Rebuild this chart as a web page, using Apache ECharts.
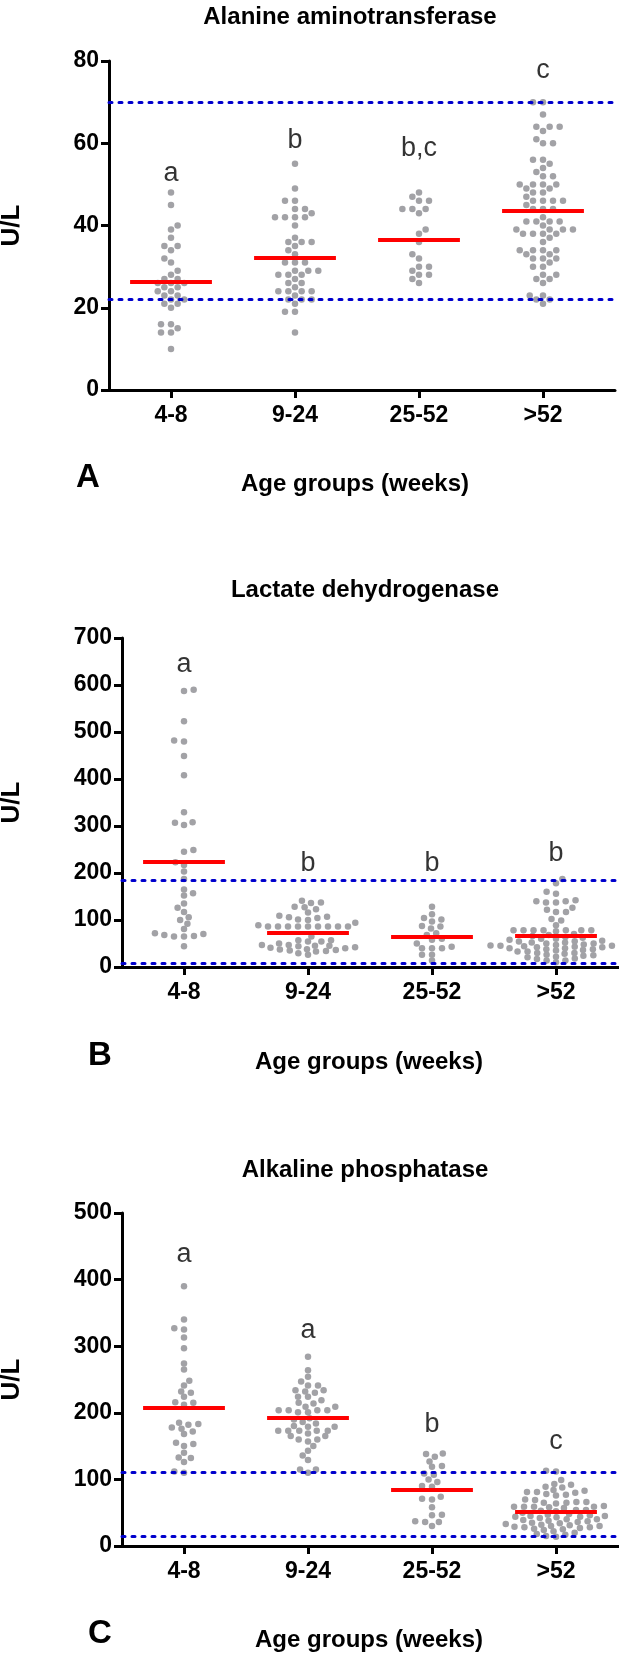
<!DOCTYPE html>
<html><head><meta charset="utf-8">
<script src="https://cdn.jsdelivr.net/npm/echarts@6/dist/echarts.min.js"></script>
<style>html,body{margin:0;padding:0;background:#fff}#c{width:619px;height:1653px}</style>
</head><body><div id="c"></div>
<script>
// ---------- DATA ----------
const categories = ['4-8', '9-24', '25-52', '>52'];

// Panel A: Alanine aminotransferase (U/L)
const alt4to8 = [48,45,40,39,37,35,35,34,32,31,29,28,27,27,26,26,26,25,25,24,24,23,23,22,22,21,21,20,16,16,15,14,14,10];
const alt9to24 = [55,49,46,46,44,44,43,42,42,42,42,40,37,36,36,36,35,34,33,31,31,31,29,29,29,28,28,28,27,26,26,25,24,24,24,24,23,22,22,22,21,19,19,14];
const alt25to52 = [48,47,46,46,44,44,44,43,39,38,36,33,32,30,30,29,28,28,27,26];
const altOver52 = [70,70,67,64,64,64,63,61,60,60,56,56,55,54,53,52,52,50,50,50,50,49,49,48,48,47,46,46,46,46,45,44,44,44,42,41,41,41,41,40,39,39,39,39,38,38,38,38,37,36,34,34,34,34,33,33,32,32,32,31,30,30,28,28,27,27,26,23,23,22,22,21];
const altMeans = [26.4, 32.1, 36.6, 43.7];
const altRefs = [22, 70];
const altLetters = ['a', 'b', 'b,c', 'c'];
const altLetterY = [52.6, 60.7, 58.7, 77.7];
const altYTicks = [0, 20, 40, 60, 80];

// Panel B: Lactate dehydrogenase (U/L)
const ldh4to8 = [590,587,523,482,480,449,408,329,308,307,302,249,245,223,217,203,187,165,157,152,135,126,117,106,100,92,81,72,70,68,66,65,65,44];
const ldh9to24 = [141,137,136,128,127,123,116,109,107,106,104,101,100,94,89,86,86,86,86,86,86,86,86,86,65,57,57,54,54,50,47,47,45,45,44,42,41,40,38,37,36,35,34,33,29,26];
const ldh25to52 = [128,112,104,101,97,87,86,82,72,68,60,58,50,43,40,40,40,26,26,14];
const ldhOver52 = [187,178,160,156,142,140,140,137,137,126,122,117,117,102,99,89,78,78,78,78,78,78,78,76,70,68,66,64,62,60,60,58,56,55,54,52,52,50,50,48,48,47,46,45,45,44,43,42,42,40,40,38,38,36,35,33,33,30,30,28,26,25,24,22,21,18,17,14,14,10];
const ldhMeans = [225, 73, 64, 67];
const ldhRefs = [8, 185];
const ldhLetters = ['a', 'b', 'b', 'b'];
const ldhLetterY = [643, 221, 221, 241];
const ldhYTicks = [0, 100, 200, 300, 400, 500, 600, 700];

// Panel C: Alkaline phosphatase (U/L)
const alp4to8 = [390,340,327,325,313,297,274,265,248,241,232,230,224,216,215,212,185,183,182,178,176,172,168,155,153,150,140,133,132,126,112,110];
const alp9to24 = [284,264,254,247,241,241,234,234,232,230,224,224,219,215,214,209,209,204,204,204,204,201,201,192,190,186,184,180,179,179,173,173,173,173,173,169,165,165,160,160,157,150,143,136,129,115,115,110];
const alp25to52 = [139,138,134,127,120,119,109,107,100,96,90,89,74,71,70,58,47,46,37,36,36,30];
const alpOver52 = [113,112,99,93,92,89,88,84,83,81,81,80,78,77,76,70,69,66,66,65,65,64,60,59,59,59,59,58,57,54,54,53,52,50,48,47,46,45,45,44,44,43,42,40,40,39,38,37,36,35,34,33,32,31,30,30,29,28,28,27,26,25,24,22,20,18,17,15,14];
const alpMeans = [208, 193, 84, 52];
const alpRefs = [15, 111];
const alpLetters = ['a', 'a', 'b', 'c'];
const alpLetterY = [437, 324, 183, 157];
const alpYTicks = [0, 100, 200, 300, 400, 500];

const panelTitles = ['Alanine aminotransferase', 'Lactate dehydrogenase', 'Alkaline phosphatase'];
const panelTags = ['A', 'B', 'C'];
const yName = 'U/L';
const xName = 'Age groups (weeks)';

// ---------- LAYOUT / STYLE ----------
const CAT_PX = 124;  // pixel distance between group centres
const layouts = [
  {left:109, top:61,   width:506, height:329, titleX:350, titleY:17,   tagX:88,  tagY:478,  nameX:355, nameY:484,  ynameX:12},
  {left:122, top:638,  width:497, height:329, titleX:365, titleY:590,  tagX:100, tagY:1056, nameX:369, nameY:1062, ynameX:12},
  {left:122, top:1213, width:497, height:333, titleX:365, titleY:1170, tagX:100, tagY:1634, nameX:369, nameY:1640, ynameX:12}
];
const FONT = '"Liberation Sans", Arial, Helvetica, sans-serif';
const DOT = '#a2a2a6';
const SX = 10, SY = 5.5;   // swarm spacing: horizontal / vertical (px)

const panels = [
  {groups:[alt4to8, alt9to24, alt25to52, altOver52], means:altMeans, refs:altRefs, letters:altLetters, letterY:altLetterY, ticks:altYTicks},
  {groups:[ldh4to8, ldh9to24, ldh25to52, ldhOver52], means:ldhMeans, refs:ldhRefs, letters:ldhLetters, letterY:ldhLetterY, ticks:ldhYTicks},
  {groups:[alp4to8, alp9to24, alp25to52, alpOver52], means:alpMeans, refs:alpRefs, letters:alpLetters, letterY:alpLetterY, ticks:alpYTicks}
];

// beeswarm: horizontal pixel offsets so that dots don't overlap (elliptical spacing)
function swarm(vals, pxPerUnit) {
  const k = SX / SY;
  const D = SX;
  const pts = vals.map(v => ({v, y: v * pxPerUnit * k, x: 0})).sort((a, b) => a.y - b.y);
  const placed = [];
  let last = 1;
  for (const p of pts) {
    const cands = [0];
    for (const q of placed) {
      const dy = Math.abs(q.y - p.y);
      if (dy < D) { const dx = Math.sqrt(D * D - dy * dy); cands.push(q.x + dx, q.x - dx); }
    }
    cands.sort((a, b) => (Math.abs(a) - Math.abs(b)) || ((a * last) - (b * last)));
    for (const c of cands) {
      if (placed.every(q => (q.x - c) ** 2 + (q.y - p.y) ** 2 >= D * D - 0.01)) { p.x = c; break; }
    }
    if (p.x !== 0) last = Math.sign(p.x);
    placed.push(p);
  }
  return pts;
}

const grid = [], xAxis = [], yAxis = [], series = [], graphic = [];
panels.forEach((P, i) => {
  const L = layouts[i];
  const yMax = P.ticks[P.ticks.length - 1];
  const yInt = P.ticks[1] - P.ticks[0];
  grid.push({left: L.left, top: L.top, width: L.width, height: L.height, containLabel: false});
  const xMin = -0.5, xMax = xMin + L.width / CAT_PX;
  xAxis.push({
    type: 'value', gridIndex: i, min: xMin, max: xMax,
    axisLine: {onZero: false, lineStyle: {color: '#000', width: 3}},
    axisTick: {show: true, customValues: [0, 1, 2, 3], length: 8, lineStyle: {color: '#000', width: 3}},
    axisLabel: {customValues: [0, 1, 2, 3], formatter: v => categories[Math.round(v)], color: '#000', fontFamily: FONT, fontWeight: 'bold', fontSize: 23, margin: 14},
    splitLine: {show: false}
  });
  yAxis.push({
    type: 'value', gridIndex: i, min: 0, max: yMax, interval: yInt,
    axisLine: {show: true, onZero: false, lineStyle: {color: '#000', width: 3}},
    axisTick: {show: true, length: 8, lineStyle: {color: '#000', width: 3}},
    axisLabel: {color: '#000', fontFamily: FONT, fontWeight: 'bold', fontSize: 23, margin: 10},
    splitLine: {show: false}
  });
  const pxY = L.height / yMax;
  const dots = [];
  P.groups.forEach((g, k) => {
    swarm(g, pxY).forEach(p => dots.push([k + p.x / CAT_PX, p.v]));
  });
  const mlData = P.refs.map(r => ({yAxis: r, lineStyle: {color: '#0000cc', width: 3, type: [3, 7], cap: 'round'}}));
  P.means.forEach((m, k) => mlData.push([
    {coord: [k - 0.33, m], lineStyle: {color: '#ff0000', width: 4, type: 'solid'}},
    {coord: [k + 0.33, m]}
  ]));
  series.push({
    type: 'scatter', xAxisIndex: i, yAxisIndex: i, data: dots,
    symbol: 'circle', symbolSize: 6.5, itemStyle: {color: DOT, opacity: 1},
    silent: true, animation: false, z: 2,
    markLine: {silent: true, symbol: ['none', 'none'], label: {show: false}, animation: false, data: mlData}
  });
  series.push({
    type: 'scatter', xAxisIndex: i, yAxisIndex: i,
    data: P.letters.map((t, k) => ({value: [k, P.letterY[k]], name: t})),
    symbol: 'circle', symbolSize: 1, itemStyle: {color: 'rgba(0,0,0,0)'},
    silent: true, animation: false, z: 3,
    label: {show: true, position: 'inside', formatter: p => p.name, color: '#000', fontFamily: FONT, fontSize: 27, fontWeight: 'normal'}
  });
  graphic.push({type: 'text', x: L.titleX, y: L.titleY, style: {text: panelTitles[i], font: 'bold 24px ' + FONT, fill: '#000', align: 'center', verticalAlign: 'middle'}});
  graphic.push({type: 'text', x: L.tagX, y: L.tagY, style: {text: panelTags[i], font: 'bold 33px ' + FONT, fill: '#000', align: 'center', verticalAlign: 'middle'}});
  graphic.push({type: 'text', x: L.nameX, y: L.nameY, style: {text: xName, font: 'bold 24px ' + FONT, fill: '#000', align: 'center', verticalAlign: 'middle'}});
  graphic.push({type: 'text', x: L.ynameX, y: L.top + L.height / 2, rotation: Math.PI / 2, style: {text: yName, font: 'bold 26px ' + FONT, fill: '#000', align: 'center', verticalAlign: 'middle'}});
});

const chart = echarts.init(document.getElementById('c'), null, {renderer: 'canvas'});
chart.setOption({backgroundColor: '#fff', animation: false, grid, xAxis, yAxis, series, graphic});
</script></body></html>
